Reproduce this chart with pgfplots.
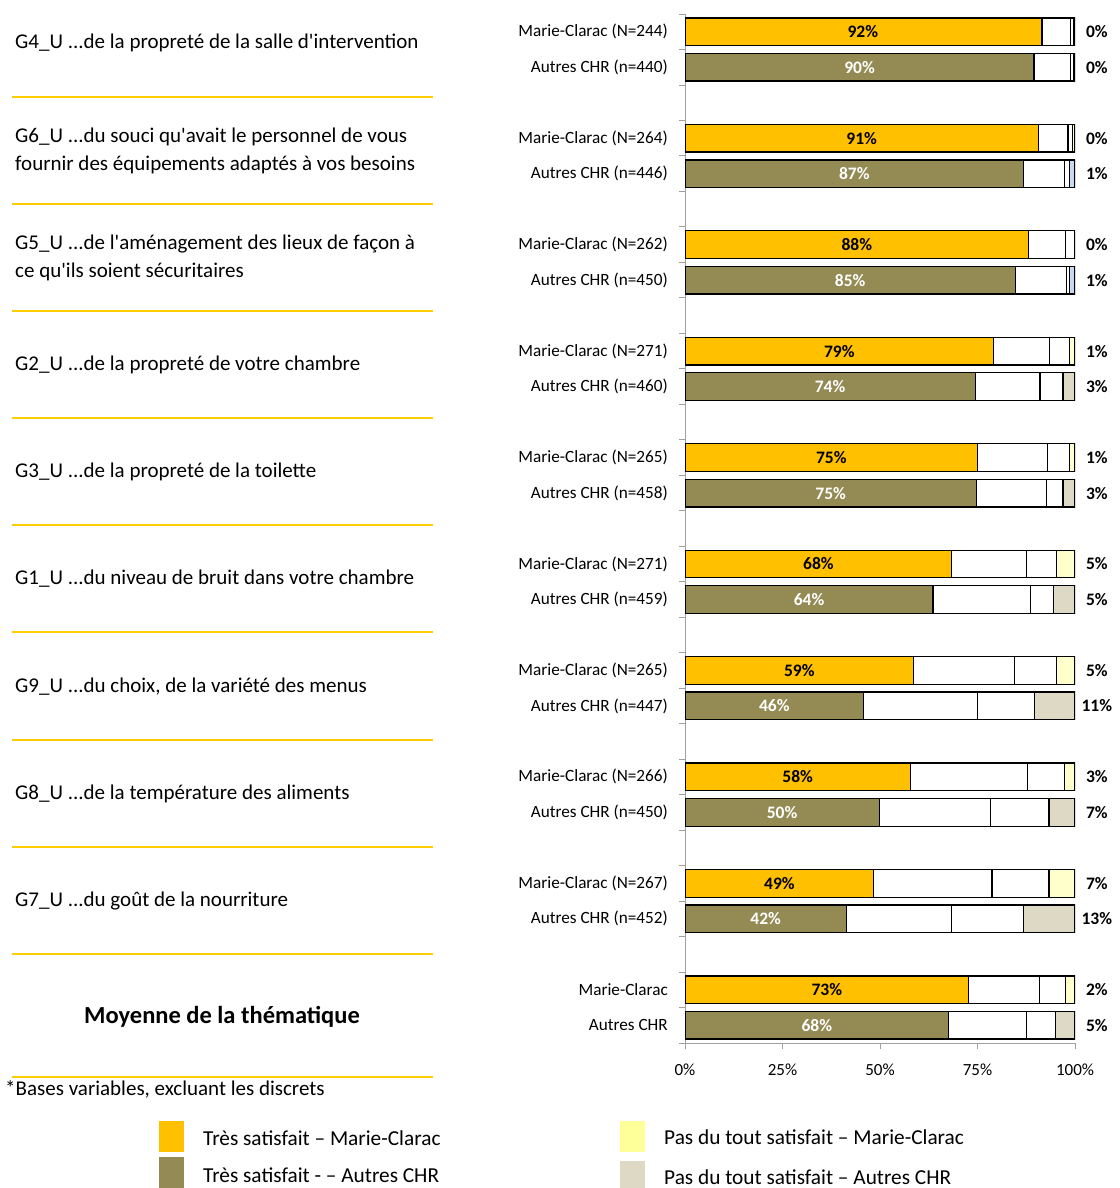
\documentclass[border=0pt]{standalone}
\usepackage{fontspec}
\setmainfont[Ligatures=TeXOff]{Carlito}
\usepackage{pgfplots}
\pgfplotsset{compat=1.18}
\usepackage{pgfplotstable}
\definecolor{gold}{HTML}{FFC000}
\definecolor{sepgold}{HTML}{FFCC00}
\definecolor{olive}{HTML}{948A54}
\definecolor{paleY}{HTML}{FFFFCC}
\definecolor{paleT}{HTML}{DDD9C4}
\definecolor{paleB}{HTML}{C5D9F1}
\definecolor{legY}{HTML}{FFFF99}
\definecolor{axgray}{HTML}{A0A0A0}

\pgfplotstableread{
y  tresMC tresAC assez peu pasMC pasAC pasB
28 91.5 0    7.4  0.8  0.3 0   0
27 0    89.5 9.3  0.8  0   0.4 0
25 90.6 0    7.6  1.2  0.6 0   0
24 0    86.8 10.5 1.3  0   0   1.4
22 88.1 0    9.5  2.3  0.1 0   0
21 0    84.7 13.2 0.7  0   0   1.4
19 79.1 0    14.4 5.1  1.4 0   0
18 0    74.4 16.6 5.9  0   3.1 0
16 75.0 0    17.9 5.7  1.4 0   0
15 0    74.7 17.9 4.3  0   3.1 0
13 68.4 0    19.2 7.7  4.7 0   0
12 0    63.6 25.0 5.9  0   5.5 0
10 58.6 0    25.9 10.8 4.7 0   0
9  0    45.8 29.2 14.6 0   10.4 0
7  57.8 0    30.1 9.4  2.7 0   0
6  0    49.8 28.6 14.9 0   6.7 0
4  48.4 0    30.3 14.6 6.7 0   0
3  0    41.4 27.0 18.4 0   13.2 0
1  72.7 0    18.2 6.7  2.4 0   0
0  0    67.6 20.0 7.4  0   5.0 0
}\bars

\newcommand{\fs}[1]{\fontsize{#1}{#1}\selectfont}

\begin{document}
\begin{tikzpicture}
\useasboundingbox (0,0) rectangle (1119pt,-1188pt);

% left-hand descriptions
\begin{scope}[every node/.style={anchor=west, inner sep=0pt, font=\fs{21}}]
\node at (15pt,-43pt) {G4\_U ...de la propreté de la salle d'intervention};
\node at (15pt,-137pt) {G6\_U ...du souci qu'avait le personnel de vous};
\node at (15pt,-165pt) {fournir des équipements adaptés à vos besoins};
\node at (15pt,-244pt) {G5\_U ...de l'aménagement des lieux de façon à};
\node at (15pt,-272pt) {ce qu'ils soient sécuritaires};
\node at (15pt,-365pt) {G2\_U ...de la propreté de votre chambre};
\node at (15pt,-472pt) {G3\_U ...de la propreté de la toilette};
\node at (15pt,-579pt) {G1\_U ...du niveau de bruit dans votre chambre};
\node at (15pt,-687pt) {G9\_U ...du choix, de la variété des menus};
\node at (15pt,-794pt) {G8\_U ...de la température des aliments};
\node at (15pt,-901pt) {G7\_U ...du goût de la nourriture};
\node at (5pt,-1089pt) {*Bases variables, excluant les discrets};
\end{scope}
\node[anchor=center, inner sep=0pt, font=\bfseries\fs{24.5}] at (222pt,-1017pt) {Moyenne de la thématique};
\foreach \yy in {97,204,311,418,525,632,740,847,954,1077}
  \draw[sepgold, line width=2pt] (12pt,-\yy pt) -- (433pt,-\yy pt);

% legend
\fill[gold] (159pt,-1121pt) rectangle (184pt,-1152pt);
\fill[olive] (159pt,-1157pt) rectangle (184pt,-1188pt);
\fill[legY] (620pt,-1121pt) rectangle (645pt,-1152pt);
\fill[paleT] (620pt,-1161pt) rectangle (645pt,-1188pt);
\begin{scope}[every node/.style={anchor=west, inner sep=0pt, font=\fs{21.3}}]
\node at (203pt,-1138pt) {Très satisfait – Marie-Clarac};
\node at (203pt,-1175pt) {Très satisfait - – Autres CHR};
\node at (664pt,-1137pt) {Pas du tout satisfait – Marie-Clarac};
\node at (664pt,-1177pt) {Pas du tout satisfait – Autres CHR};
\end{scope}

\begin{axis}[
  at={(685pt,-1043pt)}, anchor=south west,
  scale only axis, width=390pt, height=1029pt,
  xbar stacked, bar width=0.78,
  xmin=0, xmax=100, ymin=-0.5, ymax=28.5,
  axis x line=bottom, axis y line=left,
  axis line style={axgray, line width=1pt, -},
  tick align=outside, major tick length=6pt, minor tick length=6pt,
  xtick={0,25,50,75,100},
  xticklabels={0\%,25\%,50\%,75\%,100\%},
  xticklabel style={font=\fs{17}, inner sep=0pt, yshift=-15pt},
  ytick={0,1,3,4,6,7,9,10,12,13,15,16,18,19,21,22,24,25,27,28},
  yticklabels={Autres CHR, Marie-Clarac, Autres CHR (n=452), Marie-Clarac (N=267), Autres CHR (n=450), Marie-Clarac (N=266), Autres CHR (n=447), Marie-Clarac (N=265), Autres CHR (n=459), Marie-Clarac (N=271), Autres CHR (n=458), Marie-Clarac (N=265), Autres CHR (n=460), Marie-Clarac (N=271), Autres CHR (n=450), Marie-Clarac (N=262), Autres CHR (n=446), Marie-Clarac (N=264), Autres CHR (n=440), Marie-Clarac (N=244)},
  yticklabel style={font=\fs{17.2}, inner sep=0pt, anchor=east, xshift=-11pt},
  minor ytick={-0.5,0.5,...,28.5},
  every major y tick/.append style={draw=none},
  every minor y tick/.append style={axgray, line width=1pt},
  every major x tick/.append style={axgray, line width=1pt},
  every axis plot/.append style={draw=black, line width=1.3pt},
]
\addplot[fill=gold] table[x=tresMC, y=y] {\bars};
\addplot[fill=olive] table[x=tresAC, y=y] {\bars};
\addplot[fill=white] table[x=assez, y=y] {\bars};
\addplot[fill=white] table[x=peu, y=y] {\bars};
\addplot[fill=paleY] table[x=pasMC, y=y] {\bars};
\addplot[fill=paleT] table[x=pasAC, y=y] {\bars};
\addplot[fill=paleB] table[x=pasB, y=y] {\bars};
\end{axis}

\begin{axis}[
  at={(685pt,-1043pt)}, anchor=south west,
  scale only axis, width=390pt, height=1029pt,
  xmin=0, xmax=100, ymin=-0.5, ymax=28.5,
  hide axis, clip=false,
  nodes near coords={\pgfplotspointmeta\%},
  point meta=explicit symbolic,
]
\addplot[draw=none, mark=none, every node near coord/.append style={anchor=center, text=black, font=\bfseries\fs{17.5}}] coordinates {
 (45.6,28) [92] (45.3,25) [91] (44.05,22) [88] (39.55,19) [79] (37.5,16) [75]
 (34.2,13) [68] (29.3,10) [59] (28.9,7) [58] (24.2,4) [49] (36.35,1) [73]
};
\addplot[draw=none, mark=none, every node near coord/.append style={anchor=center, text=white, font=\bfseries\fs{17.5}}] coordinates {
 (44.75,27) [90] (43.4,24) [87] (42.35,21) [85] (37.2,18) [74] (37.35,15) [75]
 (31.8,12) [64] (22.9,9) [46] (24.9,6) [50] (20.7,3) [42] (33.8,0) [68]
};
\addplot[draw=none, mark=none, every node near coord/.append style={anchor=center, text=black, font=\bfseries\fs{17.5}}] coordinates {
 (105.6,28) [0] (105.6,27) [0] (105.6,25) [0] (105.6,24) [1] (105.6,22) [0]
 (105.6,21) [1] (105.6,19) [1] (105.6,18) [3] (105.6,16) [1] (105.6,15) [3]
 (105.6,13) [5] (105.6,12) [5] (105.6,10) [5] (105.6,9) [11] (105.6,7) [3]
 (105.6,6) [7] (105.6,4) [7] (105.6,3) [13] (105.6,1) [2] (105.6,0) [5]
};
\end{axis}
\end{tikzpicture}
\end{document}
